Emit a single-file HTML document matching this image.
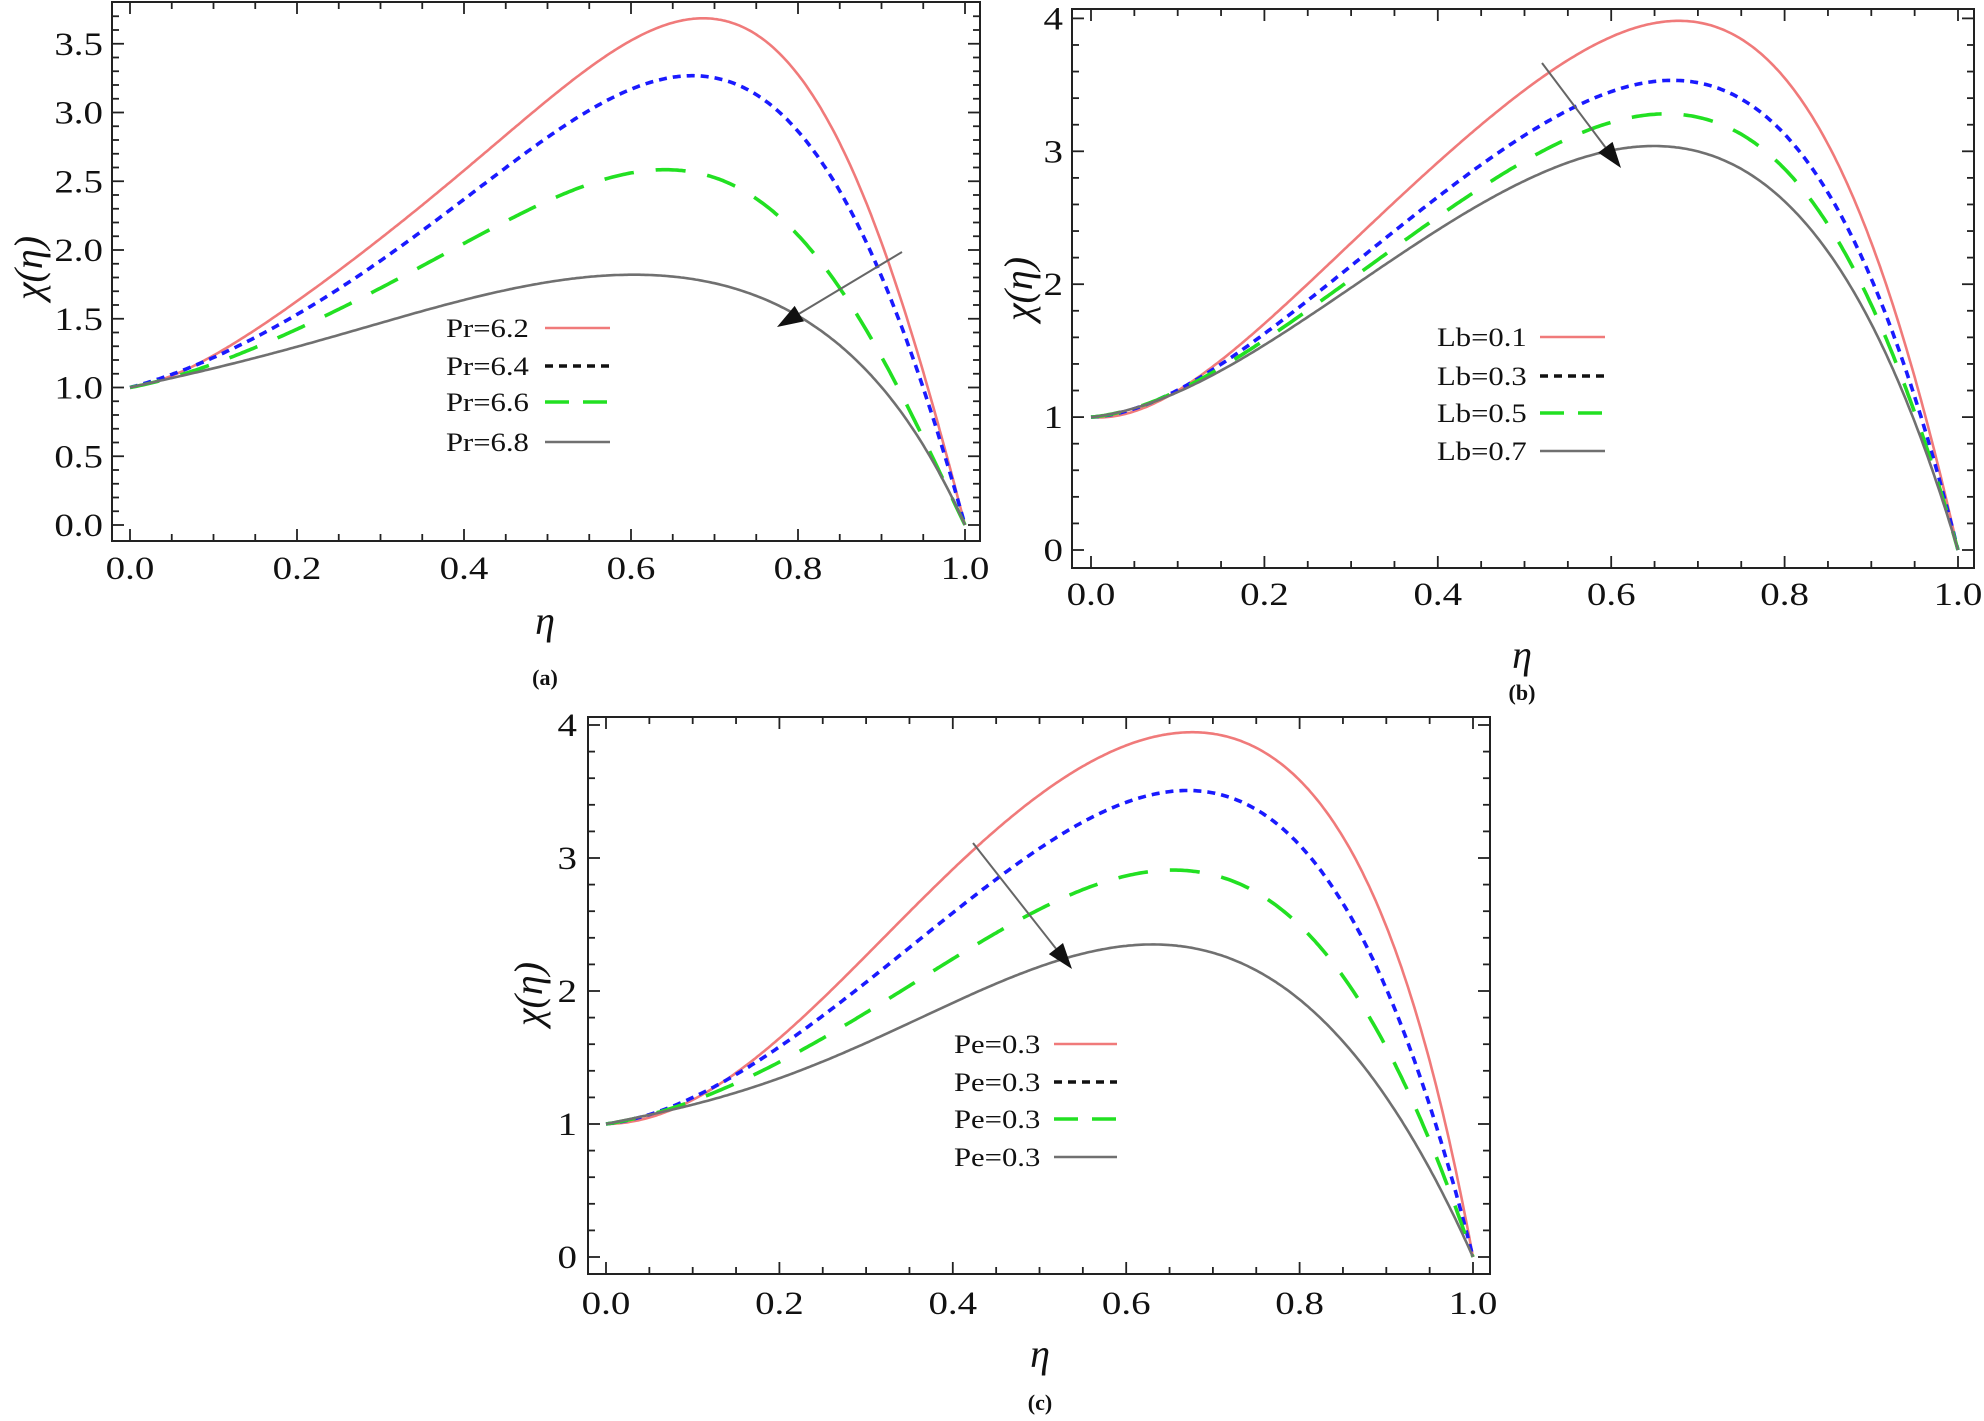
<!DOCTYPE html>
<html><head><meta charset="utf-8"><style>
html,body{margin:0;padding:0;background:#fff;}
svg{display:block;}
text{font-family:"Liberation Serif",serif;fill:#111;}
</style></head><body>
<svg id="s" width="1984" height="1421" xmlns="http://www.w3.org/2000/svg"></svg>
<script>
const S=document.getElementById('s');let h='';
function tx(x,y,t,fs,anchor,extra){h+=`<text transform="translate(${x},${y}) scale(1.18,1)" font-size="${fs}" text-anchor="${anchor||'start'}" ${extra||''}>${t}</text>`;}
function solve(A,b){const n=b.length;for(let i=0;i<n;i++){let m=i;for(let r=i+1;r<n;r++)if(Math.abs(A[r][i])>Math.abs(A[m][i]))m=r;[A[i],A[m]]=[A[m],A[i]];[b[i],b[m]]=[b[m],b[i]];for(let r=i+1;r<n;r++){const f=A[r][i]/A[i][i];for(let c=i;c<n;c++)A[r][c]-=f*A[i][c];b[r]-=f*b[i];}}const x=new Array(n).fill(0);for(let i=n-1;i>=0;i--){let s=b[i];for(let c=i+1;c<n;c++)s-=A[i][c]*x[c];x[i]=s/A[i][i];}return x;}
function fit(pts){const K=6;const A=[...Array(K)].map(()=>new Array(K).fill(0)),b=new Array(K).fill(0);
  pts.forEach(([x,y])=>{if(x==0||x==1)return;const w=x*(1-x);const phi=[];for(let k=0;k<K;k++)phi.push(w*Math.pow(x,k));const r=y-(1-x);
    for(let i=0;i<K;i++){b[i]+=phi[i]*r;for(let j=0;j<K;j++)A[i][j]+=phi[i]*phi[j];}});
  for(let i=0;i<K;i++)A[i][i]+=1e-6;
  const c=solve(A,b);return x=>{let s=0;for(let k=0;k<K;k++)s+=c[k]*Math.pow(x,k);return 1-x+x*(1-x)*s;};}
function path(pts,x0,x1,y0,k){const f=fit(pts);let d='';for(let i=0;i<=400;i++){const x=i/400;d+=(i?'L':'M')+(x0+(x1-x0)*x).toFixed(1)+','+(y0-k*f(x)).toFixed(1);}return d;}
const ST=[
 'stroke="#f07a7a" stroke-width="2.6" fill="none"',
 'stroke="#1a1aff" stroke-width="3.6" fill="none" stroke-dasharray="8,6"',
 'stroke="#22e022" stroke-width="3.6" fill="none" stroke-dasharray="30,22"',
 'stroke="#707070" stroke-width="2.6" fill="none"'];
const LST=[
 'stroke="#f07a7a" stroke-width="2.6"',
 'stroke="#111" stroke-width="3.4" stroke-dasharray="8,6"',
 'stroke="#22e022" stroke-width="3.6" stroke-dasharray="24,14"',
 'stroke="#707070" stroke-width="2.6"'];
function panel(o){
  const {L,R,T,B,x0,x1,y0,k,ymax,ymaj,ymin,ydec}=o;
  o.curves.forEach((c,i)=>{h+=`<path d="${path(c,x0,x1,y0,k)}" ${ST[i]}/>`;});
  h+=`<rect x="${L}" y="${T}" width="${R-L}" height="${B-T}" fill="none" stroke="#222" stroke-width="2"/>`;
  for(let i=0;i<=20;i++){const x=x0+(x1-x0)*i/20;const len=i%4==0?12:7;
    h+=`<line x1="${x}" y1="${B}" x2="${x}" y2="${B-len}" stroke="#222" stroke-width="1.8"/><line x1="${x}" y1="${T}" x2="${x}" y2="${T+len}" stroke="#222" stroke-width="1.8"/>`;
    if(i%4==0) tx(x,o.xlab,(i/20).toFixed(1),33,'middle');}
  const n=Math.round(ymax/ymin);
  for(let i=0;i<=n;i++){const v=i*ymin;const y=y0-k*v;const maj=Math.abs(v/ymaj-Math.round(v/ymaj))<1e-6;const len=maj?12:7;
    h+=`<line x1="${L}" y1="${y}" x2="${L+len}" y2="${y}" stroke="#222" stroke-width="1.8"/><line x1="${R}" y1="${y}" x2="${R-len}" y2="${y}" stroke="#222" stroke-width="1.8"/>`;
    if(maj) tx(o.ylx,y+11,v.toFixed(ydec),33,'end');}
  o.leg.forEach((t,i)=>{const y=o.legY[i];tx(o.legX,y+9,t,26,'start');
    h+=`<line x1="${o.lx1}" y1="${y}" x2="${o.lx2}" y2="${y}" ${LST[i]}/>`;});
  const [ax,ay,bx,by]=o.arrow;const ang=Math.atan2(by-ay,bx-ax);
  const hl=26,hw=9;const ex=bx-hl*Math.cos(ang),ey=by-hl*Math.sin(ang);
  h+=`<line x1="${ax}" y1="${ay}" x2="${ex}" y2="${ey}" stroke="#666" stroke-width="2"/>`;
  h+=`<polygon points="${bx},${by} ${ex+hw*Math.sin(ang)},${ey-hw*Math.cos(ang)} ${ex-hw*Math.sin(ang)},${ey+hw*Math.cos(ang)}" fill="#111"/>`;
  h+=`<text transform="translate(${o.yl[0]},${o.yl[1]}) rotate(-90)" font-size="40" text-anchor="middle" font-style="italic">χ(η)</text>`;
  h+=`<text x="${o.eta[0]}" y="${o.eta[1]}" font-size="40" font-style="italic" text-anchor="middle">η</text>`;
  h+=`<text x="${o.cap[0]}" y="${o.cap[1]}" font-size="22" font-weight="bold" text-anchor="middle">${o.capt}</text>`;
}
panel({L:112,R:980,T:2,B:541,x0:130,x1:965,y0:525,k:137.5,ymax:3.7,ymaj:0.5,ymin:0.1,ydec:1,xlab:579,ylx:103,
 curves:[
 [[0,1],[.1,1.22],[.2,1.61],[.3,2.1],[.4,2.62],[.5,3.07],[.6,3.49],[.67,3.67],[.72,3.64],[.8,3.33],[.85,2.8],[.9,2.05],[.95,1.1],[.97,0.6],[1,0]],
 [[0,1],[.1,1.21],[.2,1.53],[.3,1.93],[.4,2.38],[.5,2.8],[.6,3.16],[.66,3.28],[.71,3.24],[.8,2.85],[.85,2.45],[.9,1.8],[.95,1.0],[.97,0.6],[1,0]],
 [[0,1],[.1,1.17],[.2,1.42],[.3,1.72],[.4,2.06],[.5,2.37],[.6,2.55],[.64,2.57],[.7,2.5],[.8,2.15],[.85,1.75],[.9,1.2],[.95,0.6],[1,0]],
 [[0,1],[.1,1.14],[.2,1.3],[.3,1.47],[.4,1.63],[.5,1.76],[.59,1.83],[.7,1.77],[.8,1.5],[.9,1.0],[.95,0.6],[1,0]]],
 leg:['Pr=6.2','Pr=6.4','Pr=6.6','Pr=6.8'],legY:[328,366,402,442],legX:446,lx1:545,lx2:610,
 arrow:[902,252,777,327],yl:[42,268],eta:[545,634],cap:[545,685],capt:'(a)'});
panel({L:1072,R:1974,T:9,B:568,x0:1091,x1:1958,y0:550,k:132.9,ymax:4,ymaj:1,ymin:0.2,ydec:0,xlab:605,ylx:1063,
 curves:[
 [[0,1],[.1,1.22],[.2,1.65],[.3,2.32],[.4,2.96],[.5,3.48],[.6,3.83],[.68,3.92],[.74,3.87],[.8,3.59],[.85,3.1],[.9,2.41],[.95,1.2],[.97,0.68],[1,0]],
 [[0,1],[.1,1.21],[.2,1.6],[.3,2.15],[.4,2.68],[.5,3.12],[.6,3.43],[.66,3.52],[.72,3.47],[.8,3.15],[.85,2.7],[.9,2.1],[.95,1.05],[1,0]],
 [[0,1],[.1,1.2],[.2,1.56],[.3,2.05],[.4,2.52],[.5,2.93],[.6,3.2],[.66,3.27],[.72,3.22],[.8,2.88],[.85,2.45],[.9,1.9],[.95,0.95],[1,0]],
 [[0,1],[.1,1.2],[.2,1.52],[.3,1.98],[.4,2.42],[.5,2.78],[.6,3.0],[.65,3.03],[.71,2.98],[.8,2.62],[.85,2.25],[.9,1.75],[.95,0.9],[1,0]]],
 leg:['Lb=0.1','Lb=0.3','Lb=0.5','Lb=0.7'],legY:[337,376,413,451],legX:1437,lx1:1540,lx2:1605,
 arrow:[1542,63,1621,168],yl:[1032,289],eta:[1522,668],cap:[1522,700],capt:'(b)'});
panel({L:588,R:1490,T:717,B:1274,x0:606,x1:1473,y0:1257,k:133,ymax:4,ymaj:1,ymin:0.2,ydec:0,xlab:1314,ylx:577,
 curves:[
 [[0,1],[.1,1.2],[.2,1.63],[.3,2.26],[.4,2.91],[.5,3.5],[.6,3.85],[.67,3.93],[.73,3.88],[.8,3.57],[.85,3.15],[.9,2.57],[.95,1.4],[1,0]],
 [[0,1],[.1,1.2],[.2,1.57],[.3,2.07],[.4,2.6],[.5,3.07],[.6,3.4],[.66,3.51],[.72,3.46],[.8,3.1],[.85,2.65],[.9,2.05],[.95,1.1],[1,0]],
 [[0,1],[.1,1.17],[.2,1.47],[.3,1.83],[.4,2.25],[.5,2.62],[.6,2.85],[.65,2.91],[.71,2.86],[.8,2.5],[.85,2.1],[.9,1.6],[.95,0.85],[1,0]],
 [[0,1],[.1,1.15],[.2,1.35],[.3,1.6],[.4,1.9],[.5,2.2],[.6,2.34],[.63,2.35],[.7,2.28],[.8,1.95],[.85,1.6],[.9,1.2],[.95,0.68],[1,0]]],
 leg:['Pe=0.3','Pe=0.3','Pe=0.3','Pe=0.3'],legY:[1044,1082,1119,1157],legX:954,lx1:1054,lx2:1117,
 arrow:[973,843,1072,969],yl:[542,994],eta:[1040,1367],cap:[1040,1410],capt:'(c)'});
S.innerHTML=h;
</script>
</body></html>
